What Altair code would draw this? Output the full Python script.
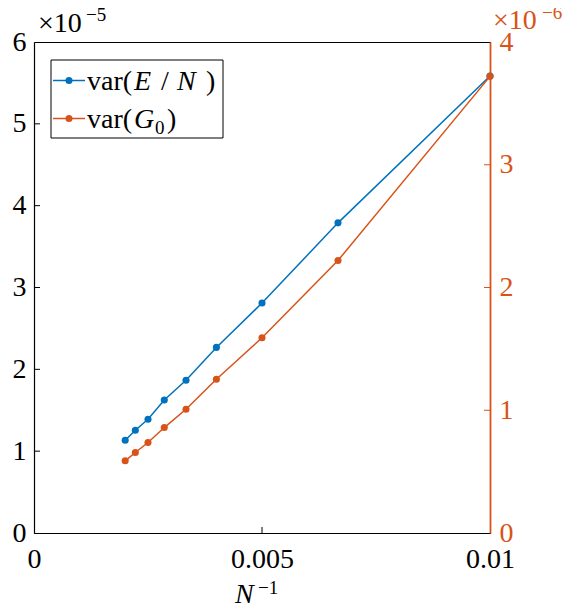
import altair as alt
import pandas as pd

inv_n = [0.002, 0.0022222, 0.0025, 0.0028571, 0.0033333, 0.004, 0.005, 0.0066667, 0.01]
var_en = [1.134e-5, 1.256e-5, 1.39e-5, 1.626e-5, 1.866e-5, 2.268e-5, 2.81e-5, 3.79e-5, 5.585e-5]
var_g0 = [0.588e-6, 0.656e-6, 0.737e-6, 0.859e-6, 1.008e-6, 1.252e-6, 1.591e-6, 2.22e-6, 3.72e-6]
left_ticks = [1e-5, 2e-5, 3e-5, 4e-5, 5e-5]
right_ticks = [1e-6, 2e-6, 3e-6]
x_ticks = [0.005]

BLUE = "#0072BD"
ORANGE = "#D95319"
FONT = "Liberation Serif"
FS = 28
FS_SUP = 19
W, H = 456, 491

df = pd.DataFrame({"x": inv_n, "en": var_en, "g0": var_g0})

xsc = alt.Scale(domain=[0, 0.01], nice=False, zero=False)
ylsc = alt.Scale(domain=[0, 6e-5], nice=False)
yrsc = alt.Scale(domain=[0, 4e-6], nice=False)

xaxis = alt.Axis(values=[0, 0.005, 0.01], format="~g", title=None, ticks=False,
                 labelFont=FONT, labelFontSize=FS, labelPadding=12,
                 domainColor="black", labelColor="black", labelFlush=False, grid=False)
yl_axis = alt.Axis(values=[0, 1e-5, 2e-5, 3e-5, 4e-5, 5e-5, 6e-5], labelExpr="round(datum.value*1e5)",
                   title=None, ticks=False, labelFont=FONT, labelFontSize=FS, labelPadding=8,
                   domainColor="black", labelColor="black", grid=False)
yr_axis = alt.Axis(values=[0, 1e-6, 2e-6, 3e-6, 4e-6], labelExpr="round(datum.value*1e6)",
                   title=None, ticks=False, labelFont=FONT, labelFontSize=FS, labelPadding=9,
                   domainColor=ORANGE, labelColor=ORANGE, orient="right", grid=False, domainWidth=1.8)

base = alt.Chart(df)
blue_line = base.mark_line(color=BLUE, strokeWidth=1.5).encode(
    x=alt.X("x:Q", scale=xsc, axis=xaxis), y=alt.Y("en:Q", scale=ylsc, axis=yl_axis))
blue_pts = base.mark_circle(color=BLUE, size=50, opacity=1).encode(
    x=alt.X("x:Q", scale=xsc), y=alt.Y("en:Q", scale=ylsc))
lt = alt.Chart(pd.DataFrame({"v": left_ticks})).mark_rule(color="black", strokeWidth=1).encode(
    y=alt.Y("v:Q", scale=ylsc), x=alt.value(0), x2=alt.value(6))
xt = alt.Chart(pd.DataFrame({"v": x_ticks})).mark_rule(color="black", strokeWidth=1).encode(
    x=alt.X("v:Q", scale=xsc), y=alt.value(H), y2=alt.value(H - 6))
left_layer = alt.layer(blue_line, blue_pts, lt, xt)

orange_line = base.mark_line(color=ORANGE, strokeWidth=1.5).encode(
    x=alt.X("x:Q", scale=xsc), y=alt.Y("g0:Q", scale=yrsc, axis=yr_axis))
orange_pts = base.mark_circle(color=ORANGE, size=50, opacity=1).encode(
    x=alt.X("x:Q", scale=xsc), y=alt.Y("g0:Q", scale=yrsc))
rt = alt.Chart(pd.DataFrame({"v": right_ticks})).mark_rule(color=ORANGE, strokeWidth=1).encode(
    y=alt.Y("v:Q", scale=yrsc), x=alt.value(W), x2=alt.value(W - 6))
right_layer = alt.layer(orange_line, orange_pts, rt)


def txt(t, x, y, size=FS, color="black", style="normal"):
    return alt.Chart(pd.DataFrame({"t": [t]})).mark_text(
        font=FONT, fontSize=size, align="left", baseline="alphabetic", color=color,
        fontStyle=style).encode(text="t:N", x=alt.value(x), y=alt.value(y))


annotations = alt.layer(
    # exponent labels
    txt("×10", 4, -10), txt("−5", 52, -21, FS_SUP),
    txt("×10", 459, -13, color=ORANGE), txt("−6", 508, -23, FS_SUP, color=ORANGE),
    # x-axis title
    txt("N", 201, 561, style="italic"), txt("−1", 224, 552, FS_SUP),
)

# legend
leg_box = alt.Chart(pd.DataFrame({"a": [0]})).mark_rect(fill="white", stroke="black", strokeWidth=1).encode(
    x=alt.value(17), x2=alt.value(189), y=alt.value(18), y2=alt.value(96))
leg_df = pd.DataFrame({"c": [BLUE, ORANGE], "yy": [38.5, 76.5]})
leg_lines = alt.Chart(leg_df).mark_rule(strokeWidth=1.5).encode(
    x=alt.value(19), x2=alt.value(51), y=alt.Y("yy:Q", scale=None), color=alt.Color("c:N", scale=None))
leg_pts = alt.Chart(leg_df).mark_circle(size=50, opacity=1).encode(
    x=alt.value(35), y=alt.Y("yy:Q", scale=None), color=alt.Color("c:N", scale=None))
leg_txt = alt.layer(
    txt("var(", 53, 48), txt("E", 100, 48, style="italic"), txt("/", 127, 48),
    txt("N", 143, 48, style="italic"), txt(")", 172, 48),
    txt("var(", 53, 86), txt("G", 100, 86, style="italic"), txt("0", 121, 92, FS_SUP), txt(")", 133, 86),
)
legend = alt.layer(leg_box, leg_lines, leg_pts, leg_txt)

chart = alt.layer(left_layer, right_layer, annotations, legend).resolve_scale(
    y="independent").properties(
    width=W, height=H, autosize=alt.AutoSizeParams(type="none"),
    padding={"left": 26, "top": 34, "right": 77, "bottom": 70}
).configure_view(stroke="black", strokeWidth=1).configure_axis(domainWidth=1.2)

chart.save("out.html", embed_options={"renderer": "svg", "actions": False})
